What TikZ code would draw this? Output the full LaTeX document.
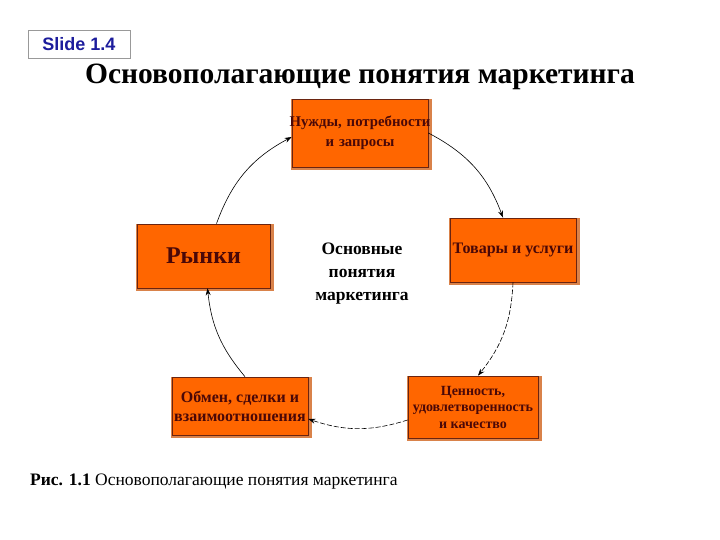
\documentclass[tikz,border=0pt]{standalone}
\usepackage{fontspec}
\setmainfont{Liberation Serif}
\newfontfamily\lsans{Liberation Sans}
\usetikzlibrary{arrows.meta,shadows}
\definecolor{boxfill}{HTML}{FF6600}
\definecolor{boxline}{HTML}{6A2410}
\definecolor{boxshade}{HTML}{D9824A}
\definecolor{boxtext}{HTML}{4A0808}
\definecolor{slideblue}{HTML}{1C1C9C}
\tikzset{
  conceptbox/.style={draw=boxline, line width=0.7pt, fill=boxfill, text=boxtext,
    font=\bfseries, align=center, inner sep=0pt,
    general shadow={fill=boxshade, shadow xshift=1.5pt, shadow yshift=-1.5pt, shadow scale=1.04}},
  linkarc/.style={line width=0.6pt, -{Stealth[length=7pt,width=5pt]}},
  dashedarc/.style={linkarc, dash pattern=on 5pt off 2pt}
}
\begin{document}
\begin{tikzpicture}[x=1pt,y=1pt]
\useasboundingbox (0,0) rectangle (720,540);
% slide label
\node[draw=gray!80, line width=0.6pt, minimum width=102pt, minimum height=28pt, inner sep=0pt,
  font=\lsans\bfseries\fontsize{18}{20}\selectfont, text=slideblue] (slide) at (79,496) {Slide 1.4};
% title
\node[font=\bfseries\fontsize{29.5}{32}\selectfont] (title) at (360,463) {Основополагающие понятия маркетинга};
% boxes
\node[conceptbox, text width=136pt, minimum height=68pt, font=\bfseries\fontsize{14.8}{20}\selectfont] (n1) at (360,407) {\makebox[136pt][c]{Нужды, потребности}\\и запросы};
\node[conceptbox, minimum width=126pt, minimum height=64pt, font=\bfseries\fontsize{16}{18}\selectfont] (n2) at (513,290) {Товары и услуги};
\node[conceptbox, minimum width=130pt, minimum height=62pt, font=\bfseries\fontsize{14}{16.5}\selectfont] (n3) at (473,133) {Ценность,\\удовлетворенность\\и качество};
\node[conceptbox, minimum width=136pt, minimum height=58pt, font=\bfseries\fontsize{16}{19}\selectfont] (n4) at (240,134) {Обмен, сделки и\\взаимоотношения};
\node[conceptbox, minimum width=133pt, minimum height=64pt, font=\bfseries\fontsize{24}{26}\selectfont] (n5) at (203.5,284) {Рынки};
% centre text
\node[font=\bfseries\fontsize{17.5}{23}\selectfont, align=center] (centre) at (362,266) {Основные\\понятия\\маркетинга};
% arcs
\draw[linkarc] (n1.east) to[bend left=21] ([xshift=-10pt]n2.north);
\draw[dashedarc] (n2.south) to[bend left=18] ([xshift=5pt]n3.north);
\draw[dashedarc] ([yshift=-13pt]n3.west) to[bend left=18] ([yshift=-13pt]n4.east);
\draw[linkarc] ([xshift=5pt]n4.north) to[bend left=17] ([xshift=4pt]n5.south);
\draw[linkarc] ([xshift=13pt]n5.north) to[bend left=21] ([yshift=-4pt]n1.west);
% caption
\node[anchor=base west, inner sep=0pt, font=\fontsize{17.5}{20}\selectfont] (caption) at (30,54) {\textbf{Рис. 1.1} Основополагающие понятия маркетинга};
\end{tikzpicture}
\end{document}
